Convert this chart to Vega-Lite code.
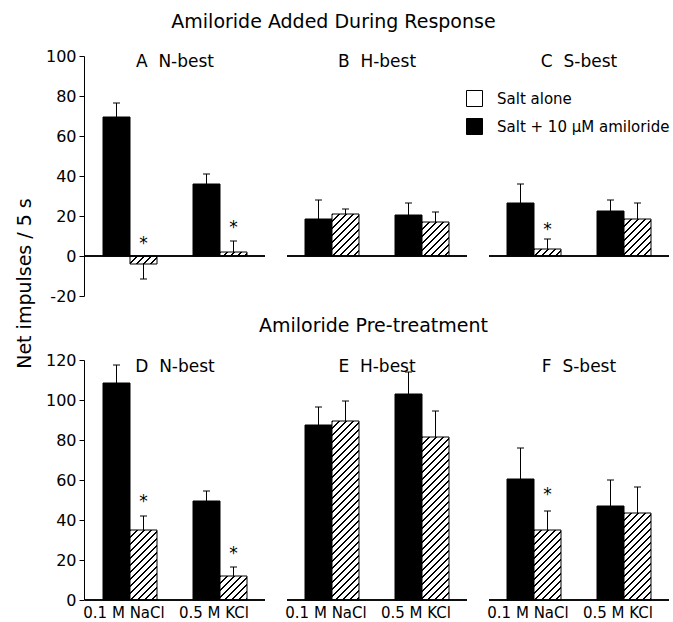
{
  "$schema": "https://vega.github.io/schema/vega-lite/v6.json",
  "padding": {"left": 16, "top": 13, "right": 0, "bottom": 0},
  "config": {
    "font": "DejaVu Sans",
    "view": {"stroke": null},
    "axis": {"labelFont": "DejaVu Sans", "labelColor": "black", "domainColor": "black", "tickColor": "black", "grid": false, "labelOverlap": false},
    "axisY": {"labelOverlap": false},
    "axisQuantitative": {"labelOverlap": false},
    "title": {"font": "DejaVu Sans", "fontWeight": "normal", "color": "black"},
    "header": {"labelFont": "DejaVu Sans", "labelColor": "black"}
  },
  "params": [
    {"name": "hatch", "value": [
      {"offset":0,"color":"#000"},{"offset":0.006,"color":"#000"},{"offset":0.008,"color":"#fff"},{"offset":0.0293,"color":"#fff"},
      {"offset":0.03125,"color":"#000"},{"offset":0.03725,"color":"#000"},{"offset":0.03925,"color":"#fff"},{"offset":0.06055,"color":"#fff"},
      {"offset":0.0625,"color":"#000"},{"offset":0.0685,"color":"#000"},{"offset":0.0705,"color":"#fff"},{"offset":0.0918,"color":"#fff"},
      {"offset":0.09375,"color":"#000"},{"offset":0.09975,"color":"#000"},{"offset":0.10175,"color":"#fff"},{"offset":0.12305,"color":"#fff"},
      {"offset":0.125,"color":"#000"},{"offset":0.131,"color":"#000"},{"offset":0.133,"color":"#fff"},{"offset":0.1543,"color":"#fff"},
      {"offset":0.15625,"color":"#000"},{"offset":0.16225,"color":"#000"},{"offset":0.16425,"color":"#fff"},{"offset":0.18555,"color":"#fff"},
      {"offset":0.1875,"color":"#000"},{"offset":0.1935,"color":"#000"},{"offset":0.1955,"color":"#fff"},{"offset":0.2168,"color":"#fff"},
      {"offset":0.21875,"color":"#000"},{"offset":0.22475,"color":"#000"},{"offset":0.22675,"color":"#fff"},{"offset":0.24805,"color":"#fff"},
      {"offset":0.25,"color":"#000"},{"offset":0.256,"color":"#000"},{"offset":0.258,"color":"#fff"},{"offset":0.2793,"color":"#fff"},
      {"offset":0.28125,"color":"#000"},{"offset":0.28725,"color":"#000"},{"offset":0.28925,"color":"#fff"},{"offset":0.31055,"color":"#fff"},
      {"offset":0.3125,"color":"#000"},{"offset":0.3185,"color":"#000"},{"offset":0.3205,"color":"#fff"},{"offset":0.3418,"color":"#fff"},
      {"offset":0.34375,"color":"#000"},{"offset":0.34975,"color":"#000"},{"offset":0.35175,"color":"#fff"},{"offset":0.37305,"color":"#fff"},
      {"offset":0.375,"color":"#000"},{"offset":0.381,"color":"#000"},{"offset":0.383,"color":"#fff"},{"offset":0.4043,"color":"#fff"},
      {"offset":0.40625,"color":"#000"},{"offset":0.41225,"color":"#000"},{"offset":0.41425,"color":"#fff"},{"offset":0.43555,"color":"#fff"},
      {"offset":0.4375,"color":"#000"},{"offset":0.4435,"color":"#000"},{"offset":0.4455,"color":"#fff"},{"offset":0.4668,"color":"#fff"},
      {"offset":0.46875,"color":"#000"},{"offset":0.47475,"color":"#000"},{"offset":0.47675,"color":"#fff"},{"offset":0.49805,"color":"#fff"},
      {"offset":0.5,"color":"#000"},{"offset":0.506,"color":"#000"},{"offset":0.508,"color":"#fff"},{"offset":0.5293,"color":"#fff"},
      {"offset":0.53125,"color":"#000"},{"offset":0.53725,"color":"#000"},{"offset":0.53925,"color":"#fff"},{"offset":0.56055,"color":"#fff"},
      {"offset":0.5625,"color":"#000"},{"offset":0.5685,"color":"#000"},{"offset":0.5705,"color":"#fff"},{"offset":0.5918,"color":"#fff"},
      {"offset":0.59375,"color":"#000"},{"offset":0.59975,"color":"#000"},{"offset":0.60175,"color":"#fff"},{"offset":0.62305,"color":"#fff"},
      {"offset":0.625,"color":"#000"},{"offset":0.631,"color":"#000"},{"offset":0.633,"color":"#fff"},{"offset":0.6543,"color":"#fff"},
      {"offset":0.65625,"color":"#000"},{"offset":0.66225,"color":"#000"},{"offset":0.66425,"color":"#fff"},{"offset":0.68555,"color":"#fff"},
      {"offset":0.6875,"color":"#000"},{"offset":0.6935,"color":"#000"},{"offset":0.6955,"color":"#fff"},{"offset":0.7168,"color":"#fff"},
      {"offset":0.71875,"color":"#000"},{"offset":0.72475,"color":"#000"},{"offset":0.72675,"color":"#fff"},{"offset":0.74805,"color":"#fff"},
      {"offset":0.75,"color":"#000"},{"offset":0.756,"color":"#000"},{"offset":0.758,"color":"#fff"},{"offset":0.7793,"color":"#fff"},
      {"offset":0.78125,"color":"#000"},{"offset":0.78725,"color":"#000"},{"offset":0.78925,"color":"#fff"},{"offset":0.81055,"color":"#fff"},
      {"offset":0.8125,"color":"#000"},{"offset":0.8185,"color":"#000"},{"offset":0.8205,"color":"#fff"},{"offset":0.8418,"color":"#fff"},
      {"offset":0.84375,"color":"#000"},{"offset":0.84975,"color":"#000"},{"offset":0.85175,"color":"#fff"},{"offset":0.87305,"color":"#fff"},
      {"offset":0.875,"color":"#000"},{"offset":0.881,"color":"#000"},{"offset":0.883,"color":"#fff"},{"offset":0.9043,"color":"#fff"},
      {"offset":0.90625,"color":"#000"},{"offset":0.91225,"color":"#000"},{"offset":0.91425,"color":"#fff"},{"offset":0.93555,"color":"#fff"},
      {"offset":0.9375,"color":"#000"},{"offset":0.9435,"color":"#000"},{"offset":0.9455,"color":"#fff"},{"offset":0.9668,"color":"#fff"},
      {"offset":0.96875,"color":"#000"},{"offset":0.97475,"color":"#000"},{"offset":0.97675,"color":"#fff"},{"offset":1,"color":"#fff"}
    ]}
  ],
  "datasets": {
    "resp": [
      {"exp":"added","panel":"A\u00a0\u00a0N-best","salt":"0.1 M NaCl","treat":"Salt + 10 μM amiloride","value":69.5,"errTop":76.5},
      {"exp":"added","panel":"A\u00a0\u00a0N-best","salt":"0.1 M NaCl","treat":"Salt alone","value":-4,"errTop":-11.5,"star":8},
      {"exp":"added","panel":"A\u00a0\u00a0N-best","salt":"0.5 M KCl","treat":"Salt + 10 μM amiloride","value":36,"errTop":41},
      {"exp":"added","panel":"A\u00a0\u00a0N-best","salt":"0.5 M KCl","treat":"Salt alone","value":2,"errTop":7.5,"star":16},
      {"exp":"added","panel":"B\u00a0\u00a0H-best","salt":"0.1 M NaCl","treat":"Salt + 10 μM amiloride","value":18.5,"errTop":28},
      {"exp":"added","panel":"B\u00a0\u00a0H-best","salt":"0.1 M NaCl","treat":"Salt alone","value":21,"errTop":23.5},
      {"exp":"added","panel":"B\u00a0\u00a0H-best","salt":"0.5 M KCl","treat":"Salt + 10 μM amiloride","value":20.5,"errTop":26.5},
      {"exp":"added","panel":"B\u00a0\u00a0H-best","salt":"0.5 M KCl","treat":"Salt alone","value":17,"errTop":22},
      {"exp":"added","panel":"C\u00a0\u00a0S-best","salt":"0.1 M NaCl","treat":"Salt + 10 μM amiloride","value":26.5,"errTop":36},
      {"exp":"added","panel":"C\u00a0\u00a0S-best","salt":"0.1 M NaCl","treat":"Salt alone","value":3.5,"errTop":8.5,"star":15},
      {"exp":"added","panel":"C\u00a0\u00a0S-best","salt":"0.5 M KCl","treat":"Salt + 10 μM amiloride","value":22.5,"errTop":28},
      {"exp":"added","panel":"C\u00a0\u00a0S-best","salt":"0.5 M KCl","treat":"Salt alone","value":18.5,"errTop":26.5},
      {"exp":"pre","panel":"D\u00a0\u00a0N-best","salt":"0.1 M NaCl","treat":"Salt + 10 μM amiloride","value":108.5,"errTop":117.5},
      {"exp":"pre","panel":"D\u00a0\u00a0N-best","salt":"0.1 M NaCl","treat":"Salt alone","value":35,"errTop":42,"star":51},
      {"exp":"pre","panel":"D\u00a0\u00a0N-best","salt":"0.5 M KCl","treat":"Salt + 10 μM amiloride","value":49.5,"errTop":54.5},
      {"exp":"pre","panel":"D\u00a0\u00a0N-best","salt":"0.5 M KCl","treat":"Salt alone","value":12,"errTop":16.5,"star":25},
      {"exp":"pre","panel":"E\u00a0\u00a0H-best","salt":"0.1 M NaCl","treat":"Salt + 10 μM amiloride","value":87.5,"errTop":96.5},
      {"exp":"pre","panel":"E\u00a0\u00a0H-best","salt":"0.1 M NaCl","treat":"Salt alone","value":89.5,"errTop":99.5},
      {"exp":"pre","panel":"E\u00a0\u00a0H-best","salt":"0.5 M KCl","treat":"Salt + 10 μM amiloride","value":103,"errTop":114},
      {"exp":"pre","panel":"E\u00a0\u00a0H-best","salt":"0.5 M KCl","treat":"Salt alone","value":81.5,"errTop":94.5},
      {"exp":"pre","panel":"F\u00a0\u00a0S-best","salt":"0.1 M NaCl","treat":"Salt + 10 μM amiloride","value":60.5,"errTop":76},
      {"exp":"pre","panel":"F\u00a0\u00a0S-best","salt":"0.1 M NaCl","treat":"Salt alone","value":35,"errTop":44.5,"star":54.5},
      {"exp":"pre","panel":"F\u00a0\u00a0S-best","salt":"0.5 M KCl","treat":"Salt + 10 μM amiloride","value":47,"errTop":60},
      {"exp":"pre","panel":"F\u00a0\u00a0S-best","salt":"0.5 M KCl","treat":"Salt alone","value":43.5,"errTop":56.5}
    ]
  },
  "title": {"text": "Net impulses / 5 s", "orient": "left", "anchor": "middle", "fontSize": 19, "offset": 10, "dx": 33},
  "spacing": 13,
  "vconcat": [
    {
      "title": {"text": "Amiloride Added During Response", "anchor": "middle", "fontSize": 19, "offset": 16, "dx": -24},
      "data": {"name": "resp"},
      "transform": [{"filter": "datum.exp === 'added'"}],
      "facet": {"column": {"field": "panel", "type": "nominal", "header": {"title": null, "labelFontSize": 17, "labelPadding": -15}}},
      "spacing": 20,
      "spec": {
        "width": 180,
        "height": 240,
        "layer": [
          {
            "mark": {"type": "bar", "stroke": "black", "strokeWidth": 1, "fill": {"expr": "datum.treat === 'Salt alone' ? {gradient: 'linear', x1: 0, y1: 0, x2: 6048 / (729 + 4 * datum.value * datum.value), y2: 448 * abs(datum.value) / (729 + 4 * datum.value * datum.value), stops: hatch} : 'black'"}},
            "encoding": {
              "x": {"field": "salt", "type": "nominal", "sort": ["0.1 M NaCl", "0.5 M KCl"], "scale": {"paddingInner": 0.4, "paddingOuter": 0.2}, "axis": null},
              "xOffset": {"field": "treat", "type": "nominal", "sort": ["Salt + 10 μM amiloride", "Salt alone"]},
              "y": {"field": "value", "type": "quantitative", "scale": {"domain": [-20, 100], "nice": false}, "axis": {"tickCount": 6, "title": null, "tickSize": 5, "labelFontSize": 16, "labelPadding": 3, "labelOverlap": false, "labelExpr": "replace(datum.label, '\u2212', '-')"}}
            }
          },
          {
            "mark": {"type": "rule", "color": "black", "strokeWidth": 1},
            "encoding": {
              "x": {"field": "salt", "type": "nominal", "sort": ["0.1 M NaCl", "0.5 M KCl"], "axis": null},
              "xOffset": {"field": "treat", "type": "nominal", "sort": ["Salt + 10 μM amiloride", "Salt alone"]},
              "y": {"field": "value", "type": "quantitative"},
              "y2": {"field": "errTop"}
            }
          },
          {
            "mark": {"type": "tick", "orient": "horizontal", "size": 7, "thickness": 1, "color": "black", "opacity": 1},
            "encoding": {
              "x": {"field": "salt", "type": "nominal", "sort": ["0.1 M NaCl", "0.5 M KCl"], "axis": null},
              "xOffset": {"field": "treat", "type": "nominal", "sort": ["Salt + 10 μM amiloride", "Salt alone"]},
              "y": {"field": "errTop", "type": "quantitative"}
            }
          },
          {
            "mark": {"type": "text", "text": "*", "fontSize": 17, "baseline": "middle", "dy": 4, "color": "black"},
            "encoding": {
              "x": {"field": "salt", "type": "nominal", "sort": ["0.1 M NaCl", "0.5 M KCl"], "axis": null},
              "xOffset": {"field": "treat", "type": "nominal", "sort": ["Salt + 10 μM amiloride", "Salt alone"]},
              "y": {"field": "star", "type": "quantitative"}
            }
          },
          {
            "mark": {"type": "rule", "color": "black", "strokeWidth": 1},
            "encoding": {"y": {"datum": 0, "type": "quantitative"}}
          },
          {
            "mark": {"type": "point", "shape": "square", "filled": true, "opacity": 0},
            "encoding": {
              "x": {"field": "salt", "type": "nominal", "sort": ["0.1 M NaCl", "0.5 M KCl"], "axis": null},
              "y": {"datum": 0, "type": "quantitative"},
              "fill": {"field": "treat", "type": "nominal", "scale": {"domain": ["Salt alone", "Salt + 10 μM amiloride"], "range": ["white", "black"]},
                "legend": {"title": null, "orient": "none", "legendX": 381, "legendY": 34, "symbolType": "square", "symbolSize": 256, "symbolOpacity": 1, "symbolStrokeColor": "black", "symbolStrokeWidth": 1, "labelFontSize": 15, "labelColor": "black", "labelOffset": 14, "rowPadding": 7, "labelLimit": 300,
                  "encode": {"symbols": {"update": {"fill": {"signal": "datum.value === 'Salt alone' ? {gradient: 'linear', x1: 0, y1: 0, x2: 7, y2: 7, stops: hatch} : 'black'"}, "stroke": {"value": "black"}, "strokeWidth": {"value": 1}, "opacity": {"value": 1}}}}}}
            }
          }
        ]
      }
    },
    {
      "title": {"text": "Amiloride Pre-treatment", "anchor": "middle", "fontSize": 19, "offset": 16, "dx": 16},
      "data": {"name": "resp"},
      "transform": [{"filter": "datum.exp === 'pre'"}],
      "facet": {"column": {"field": "panel", "type": "nominal", "header": {"title": null, "labelFontSize": 17, "labelPadding": -16}}},
      "spacing": 20,
      "spec": {
        "width": 180,
        "height": 240,
        "layer": [
          {
            "mark": {"type": "bar", "stroke": "black", "strokeWidth": 1, "fill": {"expr": "datum.treat === 'Salt alone' ? {gradient: 'linear', x1: 0, y1: 0, x2: 6048 / (729 + 4 * datum.value * datum.value), y2: 448 * abs(datum.value) / (729 + 4 * datum.value * datum.value), stops: hatch} : 'black'"}},
            "encoding": {
              "x": {"field": "salt", "type": "nominal", "sort": ["0.1 M NaCl", "0.5 M KCl"], "scale": {"paddingInner": 0.4, "paddingOuter": 0.2}, "axis": {"title": null, "ticks": false, "domain": false, "labelFontSize": 15, "labelPadding": 4, "labelAngle": 0, "labelOverlap": false, "labelOffset": -6}},
              "xOffset": {"field": "treat", "type": "nominal", "sort": ["Salt + 10 μM amiloride", "Salt alone"]},
              "y": {"field": "value", "type": "quantitative", "scale": {"domain": [0, 120], "nice": false}, "axis": {"tickCount": 6, "title": null, "tickSize": 5, "labelFontSize": 16, "labelPadding": 3, "labelOverlap": false}}
            }
          },
          {
            "mark": {"type": "rule", "color": "black", "strokeWidth": 1},
            "encoding": {
              "x": {"field": "salt", "type": "nominal", "sort": ["0.1 M NaCl", "0.5 M KCl"]},
              "xOffset": {"field": "treat", "type": "nominal", "sort": ["Salt + 10 μM amiloride", "Salt alone"]},
              "y": {"field": "value", "type": "quantitative"},
              "y2": {"field": "errTop"}
            }
          },
          {
            "mark": {"type": "tick", "orient": "horizontal", "size": 7, "thickness": 1, "color": "black", "opacity": 1},
            "encoding": {
              "x": {"field": "salt", "type": "nominal", "sort": ["0.1 M NaCl", "0.5 M KCl"]},
              "xOffset": {"field": "treat", "type": "nominal", "sort": ["Salt + 10 μM amiloride", "Salt alone"]},
              "y": {"field": "errTop", "type": "quantitative"}
            }
          },
          {
            "mark": {"type": "text", "text": "*", "fontSize": 17, "baseline": "middle", "dy": 4, "color": "black"},
            "encoding": {
              "x": {"field": "salt", "type": "nominal", "sort": ["0.1 M NaCl", "0.5 M KCl"]},
              "xOffset": {"field": "treat", "type": "nominal", "sort": ["Salt + 10 μM amiloride", "Salt alone"]},
              "y": {"field": "star", "type": "quantitative"}
            }
          },
          {
            "mark": {"type": "rule", "color": "black", "strokeWidth": 1},
            "encoding": {"y": {"datum": 0, "type": "quantitative"}}
          }
        ]
      }
    }
  ]
}
